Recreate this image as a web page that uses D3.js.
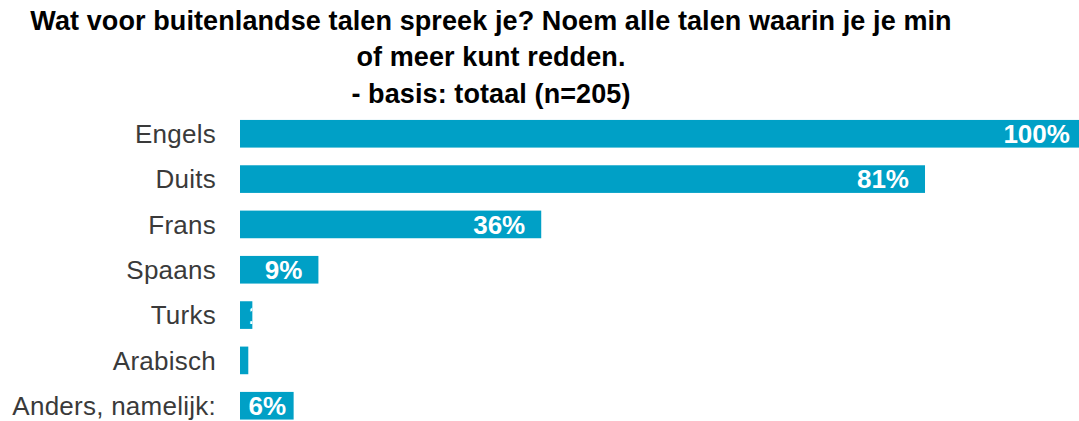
<!DOCTYPE html>
<html>
<head>
<meta charset="utf-8">
<script src="https://cdn.jsdelivr.net/npm/d3@7"></script>
<style>
  html, body { margin: 0; padding: 0; background: #fff; }
  svg { display: block; font-family: "Liberation Sans", Arial, sans-serif; }
</style>
</head>
<body>
<svg id="chart" width="1079" height="421"></svg>
<script>
const titleLines = [
  "Wat voor buitenlandse talen spreek je? Noem alle talen waarin je je min",
  "of meer kunt redden.",
  "- basis: totaal (n=205)"
];
const categories = ["Engels", "Duits", "Frans", "Spaans", "Turks", "Arabisch", "Anders, namelijk:"];
const values = [100, 80.98, 35.61, 9.27, 1.46, 0.98, 6.34];
const valueLabels = ["100%", "81%", "36%", "9%", "1%", "1%", "6%"];

const W = 1079, H = 421;
const svg = d3.select("#chart");
const barColor = "#00a0c6";

// Title
svg.append("g").selectAll("text")
  .data(titleLines)
  .join("text")
  .attr("x", 491)
  .attr("y", (d, i) => [30, 66, 103][i])
  .attr("text-anchor", "middle")
  .attr("font-size", 27)
  .attr("font-weight", "bold")
  .attr("letter-spacing", 0.1)
  .attr("fill", "#000")
  .text(d => d);

const x = d3.scaleLinear().domain([0, 100]).range([240, 1085.9]);
const y = d3.scaleBand()
  .domain(categories)
  .range([111.1, 428.4])
  .paddingInner(0.39)
  .paddingOuter(0.195);

const data = categories.map((c, i) => ({ c, v: values[i], lab: valueLabels[i], i }));

const defs = svg.append("defs");
defs.selectAll("clipPath")
  .data(data)
  .join("clipPath")
  .attr("id", d => "clip" + d.i)
  .append("rect")
  .attr("x", x(0))
  .attr("y", d => y(d.c))
  .attr("width", d => x(d.v) - x(0))
  .attr("height", y.bandwidth());

// Bars
svg.append("g").selectAll("rect")
  .data(data)
  .join("rect")
  .attr("x", x(0))
  .attr("y", d => y(d.c))
  .attr("width", d => x(d.v) - x(0))
  .attr("height", y.bandwidth())
  .attr("fill", barColor);

// Category axis labels
const yAxis = d3.axisLeft(y).tickSize(0).tickPadding(0);
const ag = svg.append("g").attr("transform", "translate(216,0)").call(yAxis);
ag.select(".domain").remove();
ag.selectAll("text")
  .attr("font-size", 26)
  .attr("font-family", "\"Liberation Sans\", Arial, sans-serif")
  .attr("letter-spacing", 0.25)
  .attr("fill", "#3a3a3a")
  .attr("x", 0)
  .attr("dy", "0.36em");

// Value labels (inside end, clipped to bar)
const lg = svg.append("g");
data.forEach(d => {
  const t = lg.append("text")
    .attr("clip-path", `url(#clip${d.i})`)
    .attr("font-size", 26)
    .attr("font-weight", "bold")
    .attr("fill", "#fff")
    .attr("y", y(d.c) + y.bandwidth() / 2)
    .attr("dy", "0.36em")
    .text(d.lab);
  const w = t.node().getComputedTextLength();
  const left = Math.max(x(d.v) - 16 - w, x(0) + 8.5);
  t.attr("x", left);
});
</script>
</body>
</html>
